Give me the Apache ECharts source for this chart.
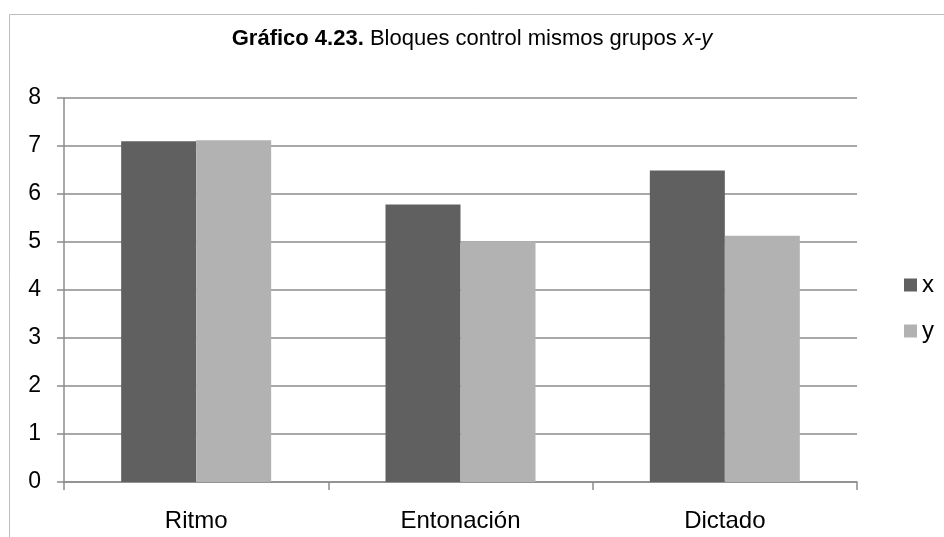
<!DOCTYPE html>
<html>
<head>
<meta charset="utf-8">
<script src="https://cdn.jsdelivr.net/npm/echarts@6/dist/echarts.min.js"></script>
<style>
  html, body { margin: 0; padding: 0; background: #fff; }
  #chart { width: 944px; height: 537px; }
</style>
</head>
<body>
<div id="chart"></div>
<script>
  // datos
  var categorias = ['Ritmo', 'Entonación', 'Dictado'];
  var serieX = [7.1, 5.78, 6.49];
  var serieY = [7.12, 5.01, 5.13];
  var nombres = ['x', 'y'];
  var colores = ['#606060', '#b2b2b2'];

  var chart = echarts.init(document.getElementById('chart'));
  chart.setOption({
    backgroundColor: '#fff',
    animation: false,
    graphic: [{
      type: 'rect',
      shape: { x: 9.5, y: 14.5, width: 960, height: 560 },
      style: { fill: 'none', stroke: '#bdbdbd', lineWidth: 1 },
      silent: true
    }],
    title: {
      text: '{b|Gráfico 4.23.} Bloques control mismos grupos {i|x-y}',
      left: 'center',
      top: 23,
      textStyle: {
        fontFamily: 'Liberation Sans',
        fontSize: 22,
        fontWeight: 'normal',
        color: '#000',
        rich: {
          b: { fontFamily: 'Liberation Sans', fontSize: 22, fontWeight: 'bold', color: '#000' },
          i: { fontFamily: 'Liberation Sans', fontSize: 22, fontStyle: 'italic', color: '#000' }
        }
      }
    },
    legend: {
      orient: 'vertical',
      left: 899,
      top: 268,
      itemWidth: 13,
      itemHeight: 13,
      itemGap: 22,
      icon: 'rect',
      data: nombres,
      textStyle: { fontFamily: 'Liberation Sans', fontSize: 24, color: '#000' }
    },
    grid: { left: 64, right: 87, top: 98, bottom: 55 },
    xAxis: {
      type: 'category',
      data: categorias,
      axisLine: { show: true, lineStyle: { color: '#8c8c8c', width: 1.5 } },
      axisTick: { show: true, alignWithLabel: false, length: 8, lineStyle: { color: '#8c8c8c', width: 1.5 } },
      axisLabel: { fontFamily: 'Liberation Sans', fontSize: 24, color: '#000', margin: 27 },
      splitLine: { show: false }
    },
    yAxis: {
      type: 'value',
      min: 0,
      max: 8,
      interval: 1,
      axisLine: { show: true, lineStyle: { color: '#8c8c8c', width: 1.5 } },
      axisTick: { show: true, length: 7, lineStyle: { color: '#8c8c8c', width: 1.5 } },
      axisLabel: { fontFamily: 'Liberation Sans', fontSize: 23, color: '#000', margin: 23 },
      splitLine: { show: true, lineStyle: { color: '#8c8c8c', width: 1.5 } }
    },
    series: [{
      name: nombres[0],
      type: 'bar',
      data: serieX,
      barWidth: 75,
      barGap: '0%',
      itemStyle: { color: colores[0] }
    }, {
      name: nombres[1],
      type: 'bar',
      data: serieY,
      barWidth: 75,
      barGap: '0%',
      itemStyle: { color: colores[1] }
    }]
  });
</script>
</body>
</html>
